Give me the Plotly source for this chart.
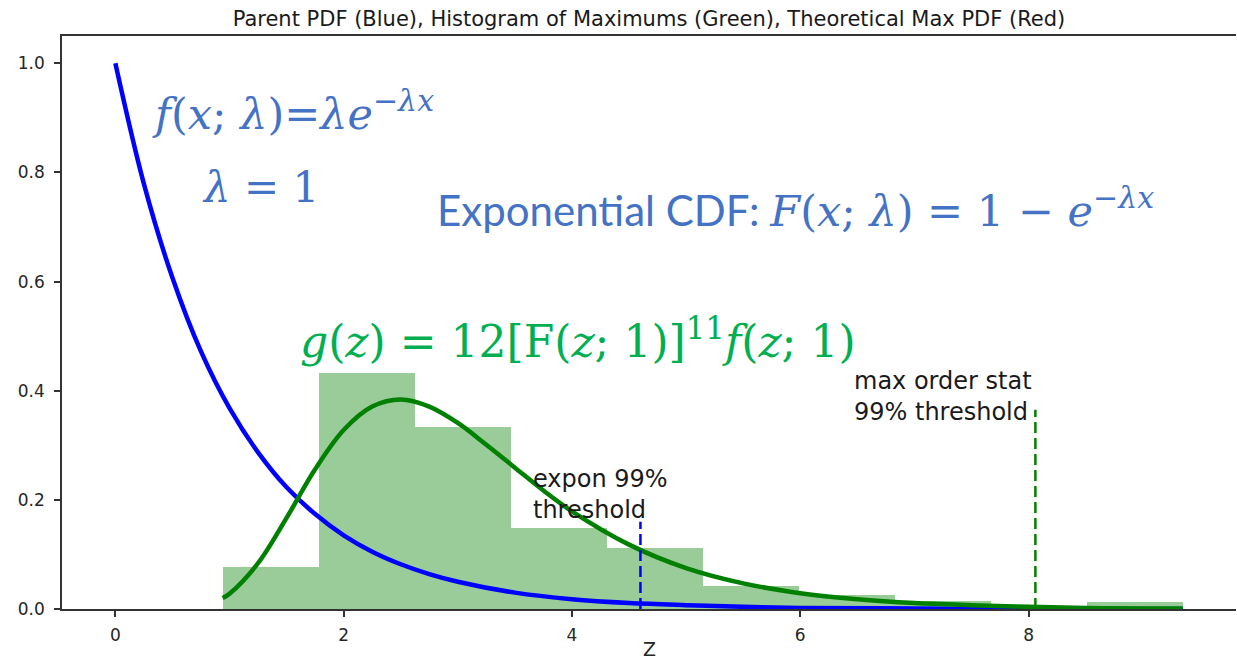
import plotly.graph_objects as go

# Parent exponential PDF (lambda = 1), sampled along z
blue_x = [0.0, 0.25, 0.5, 0.75, 1.0, 1.25, 1.5, 1.75, 2.0, 2.25, 2.5, 2.75, 3.0,
          3.5, 4.0, 4.5, 5.0, 5.5, 6.0, 7.0, 8.0, 9.35]
blue_y = [1.000, 0.779, 0.607, 0.472, 0.368, 0.287, 0.223, 0.174, 0.135, 0.105,
          0.082, 0.064, 0.050, 0.030, 0.018, 0.011, 0.007, 0.004, 0.002, 0.001,
          0.000, 0.000]

# Theoretical PDF of the maximum of 12 draws
green_x = [0.94, 1.0, 1.25, 1.5, 1.75, 2.0, 2.25, 2.5, 2.75, 3.0, 3.25, 3.5, 3.75,
           4.0, 4.5, 5.0, 5.5, 6.0, 6.5, 7.0, 7.5, 8.0, 8.5, 9.0, 9.35]
green_y = [0.020, 0.028, 0.084, 0.167, 0.256, 0.328, 0.371, 0.384, 0.371, 0.341,
           0.301, 0.259, 0.217, 0.179, 0.118, 0.075, 0.047, 0.029, 0.018, 0.011,
           0.007, 0.004, 0.002, 0.001, 0.001]

# Histogram of simulated maximums (density)
bin_edges = [0.94, 1.781, 2.622, 3.463, 4.304, 5.145, 5.986, 6.827, 7.668, 8.509, 9.35]
bin_density = [0.077, 0.433, 0.334, 0.148, 0.112, 0.042, 0.026, 0.014, 0.006, 0.012]

# 99% thresholds
expon_thresh = 4.6
expon_line_top = 0.16
max_thresh = 8.06
max_line_top = 0.365

x_ticks = [0, 2, 4, 6, 8]
y_ticks = [0.0, 0.2, 0.4, 0.6, 0.8, 1.0]

W, H = 1237, 662
L, R, T, B = 62, 1, 36, 53

bin_centers = [(a + b) / 2 for a, b in zip(bin_edges[:-1], bin_edges[1:])]
bin_widths = [b - a for a, b in zip(bin_edges[:-1], bin_edges[1:])]

fig = go.Figure()
fig.add_trace(go.Bar(x=bin_centers, y=bin_density, width=bin_widths,
                     marker=dict(color="rgba(0,128,0,0.4)", line=dict(width=0)),
                     showlegend=False, hoverinfo="skip"))
fig.add_trace(go.Scatter(x=blue_x, y=blue_y, mode="lines",
                         line=dict(color="#0000ff", width=4.5, shape="spline"),
                         showlegend=False))
fig.add_trace(go.Scatter(x=green_x, y=green_y, mode="lines",
                         line=dict(color="#008000", width=4.5, shape="spline"),
                         showlegend=False))
fig.add_trace(go.Scatter(x=[expon_thresh, expon_thresh], y=[0, expon_line_top],
                         mode="lines", line=dict(color="#0000ff", width=2.5, dash="11px,5px"),
                         showlegend=False))
fig.add_trace(go.Scatter(x=[max_thresh, max_thresh], y=[0, max_line_top],
                         mode="lines", line=dict(color="#008000", width=2.5, dash="11px,5px"),
                         showlegend=False))


def px_x(px):
    return (px - L) / (W - L - R)


def px_y(py):
    return (H - B - py) / (H - T - B)


tick_font = dict(family="DejaVu Sans", size=17, color="#262626")
label_font = dict(family="DejaVu Sans", size=24, color="#1a1a1a")
serif = "DejaVu Serif"
blue_txt = "#4472C4"
green_txt = "#00B050"

annotations = [
    dict(x=3.64, y=0.152, xref="x", yref="y", xanchor="left", yanchor="bottom",
         text="expon 99%<br>threshold", font=label_font, align="left", showarrow=False),
    dict(x=6.45, y=0.332, xref="x", yref="y", xanchor="left", yanchor="bottom",
         text="max order stat<br>99% threshold", font=label_font, align="left", showarrow=False),
    dict(x=px_x(150), y=px_y(141), xref="paper", yref="paper", xanchor="left", yanchor="bottom",
         text="<i>f</i>(<i>x</i>; <i>λ</i>)=<i>λe</i><sup><i>−λx</i></sup>",
         font=dict(family=serif, size=43, color=blue_txt), showarrow=False),
    dict(x=px_x(200), y=px_y(214), xref="paper", yref="paper", xanchor="left", yanchor="bottom",
         text="<i>λ</i> = 1",
         font=dict(family=serif, size=42, color=blue_txt), showarrow=False),
    dict(x=px_x(435), y=px_y(238), xref="paper", yref="paper", xanchor="left", yanchor="bottom",
         text="Exponential CDF: <span style='font-family:DejaVu Serif;font-size:43px'><i>F</i>(<i>x</i>; <i>λ</i>) = 1 − <i>e</i><sup><i>−λx</i></sup></span>",
         font=dict(family="Lato", size=42, color=blue_txt), showarrow=False),
    dict(x=px_x(298), y=px_y(369), xref="paper", yref="paper", xanchor="left", yanchor="bottom",
         text="<i>g</i>(<i>z</i>) = 12[F(<i>z</i>; 1)]<sup>11</sup><i>f</i>(<i>z</i>; 1)",
         font=dict(family=serif, size=44, color=green_txt), showarrow=False),
    dict(x=px_x(649), y=px_y(649), xref="paper", yref="paper", xanchor="center", yanchor="middle",
         text="Z", font=dict(family="DejaVu Sans", size=19, color="#262626"),
         borderpad=0, showarrow=False),
]

fig.update_layout(
    width=W, height=H,
    margin=dict(l=L, r=R, t=T, b=B, autoexpand=False),
    paper_bgcolor="white", plot_bgcolor="white",
    bargap=0,
    title=dict(text="Parent PDF (Blue), Histogram of Maximums (Green), Theoretical Max PDF (Red)",
               x=649 / W, xanchor="center",
               y=(H - 19) / H, yanchor="middle",
               font=dict(family="DejaVu Sans", size=21, color="#1a1a1a")),
    annotations=annotations,
    xaxis=dict(range=[-0.4675, 9.8175], tickvals=x_ticks, ticktext=[str(v) for v in x_ticks],
               showgrid=False, zeroline=False, showline=True, linecolor="#333333", linewidth=1.5,
               mirror=True, ticks="outside", ticklen=6, tickwidth=1.5, tickcolor="#333333",
               tickfont=tick_font, ticklabelstandoff=4, automargin=False),
    yaxis=dict(range=[0, 1.05], tickvals=y_ticks, ticktext=[f"{v:.1f}" for v in y_ticks],
               showgrid=False, zeroline=False, showline=True, linecolor="#333333", linewidth=1.5,
               mirror=False, ticks="outside", ticklen=6, tickwidth=1.5, tickcolor="#333333",
               tickfont=tick_font, ticklabelstandoff=6, automargin=False),
)

fig.write_html("out.html")
